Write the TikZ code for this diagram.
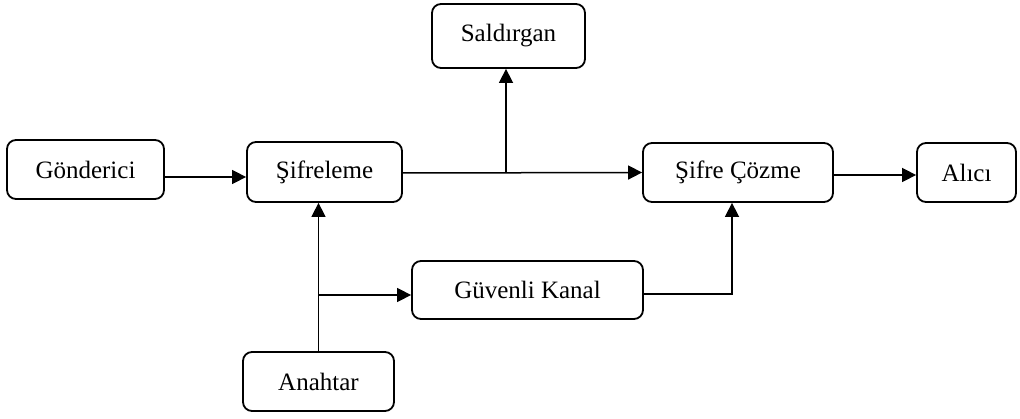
\documentclass[tikz,border=0pt]{standalone}
\usepackage{fontspec}
\setmainfont{Liberation Serif}
\usetikzlibrary{arrows.meta}
\begin{document}
\begin{tikzpicture}[x=1pt,y=-1pt,
  box/.style={draw=black, line width=1.8pt, rounded corners=9pt, fill=white,
    inner sep=0pt, font=\fontsize{25}{30}\selectfont},
  arr/.style={draw=black, line width=1.5pt, -{Triangle[length=14pt,width=14pt]}}]
\useasboundingbox (0,0) rectangle (1020,419);
\node[box, minimum width=157pt, minimum height=59pt] (gon) at (85.5,169.5) {Gönderici};
\node[box, minimum width=155pt, minimum height=60pt] (sif) at (324.5,172) {Şifreleme};
\node[box, minimum width=153pt, minimum height=64pt] (sal) at (508.5,36) {Saldırgan};
\node[box, minimum width=190pt, minimum height=59pt] (coz) at (738,172.5) {Şifre Çözme};
\node[box, minimum width=99pt, minimum height=59pt] (ali) at (966.5,172.5) {Alıcı};
\node[box, minimum width=231pt, minimum height=58pt] (gk) at (527.5,290) {Güvenli Kanal};
\node[box, minimum width=151pt, minimum height=59pt] (ana) at (318.5,381.5) {Anahtar};
\coordinate (tap) at (506,173);
\coordinate (br) at (318.5,295);
\draw[arr] ([yshift=-7.5pt]gon.east) -- ([yshift=-5pt]sif.west);
\draw[arr] ([yshift=-1pt]sif.east) -- (coz.west);
\draw[arr] (tap) -- (tap |- sal.south);
\draw[arr] (ana.north) -- (ana.north |- sif.south);
\draw[arr] (br) -- (br -| gk.west);
\draw[arr] ([yshift=-4pt]gk.east) -| ([xshift=-6pt]coz.south);
\draw[arr] ([yshift=-2.5pt]coz.east) -- ([yshift=-2.5pt]ali.west);
\end{tikzpicture}
\end{document}
